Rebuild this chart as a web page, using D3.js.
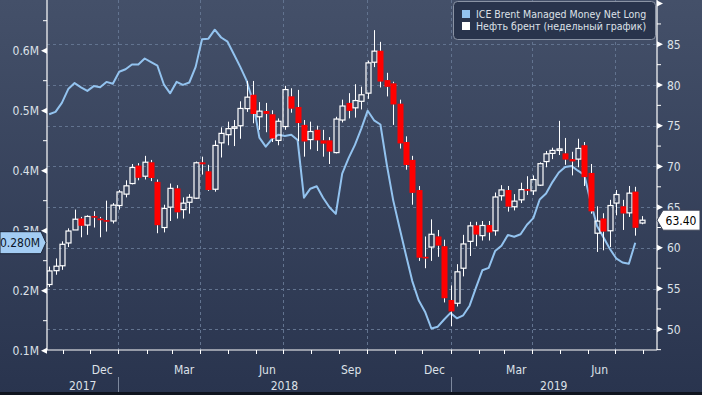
<!DOCTYPE html>
<html>
<head>
<meta charset="utf-8">
<script src="https://cdn.jsdelivr.net/npm/d3@7"></script>
<style>
  html, body { margin: 0; padding: 0; background: #2b3650; }
  svg { display: block; font-family: "DejaVu Sans Condensed", "DejaVu Sans", sans-serif; }
</style>
</head>
<body>
<div id="chart"></div>
<script>
// weekly Brent candles, weeks ending on Friday
const weeks = d3.timeFriday.range(new Date(2017, 9, 13), new Date(2019, 6, 27));

const open = [55.5,57.2,57.8,60.6,62.2,63.6,62.8,63.9,63.6,63.4, 63.3,65.2,66.6,67.9,70.1,68.8,70.5,68.1,62.5,65.0,
  67.3,64.7,65.6,66.1,70.5,69.4,67.2,72.9,73.9,74.7, 75.0,77.1,78.8,76.1,76.8,76.4,73.2,74.9,78.6,77.3,
  75.1,73.3,74.5,73.2,73.2,71.7,75.7,77.8,77.2,78.0, 79.0,82.8,84.2,80.6,80.2,77.7,73.0,70.8,67.1,58.9,
  60.1,61.4,60.2,53.6,53.2,57.5,60.8,62.75,61.5,62.8, 62.1,66.4,67.1,65.05,65.9,67.2,67.0,67.7,70.6,71.6,
  72.0,71.6,70.9,70.9,72.6,69.2,61.8,63.6,62.1,65.5, 65.1,64.3,66.9,63.05];
const high = [57.7,58.7,60.8,62.4,64.7,63.8,64.0,64.5,63.8,65.8, 65.5,67.1,68.3,70.3,70.4,71.3,70.8,68.4,65.3,67.9,
  67.7,66.2,66.6,70.6,71.2,70.2,73.2,74.8,75.5,75.7, 78.0,80.5,80.5,77.9,77.8,76.9,75.9,79.9,79.6,79.4,
  75.7,75.5,75.0,74.5,73.6,76.1,78.2,79.0,80.1,79.8, 83.0,86.74,85.3,81.5,80.4,78.2,73.7,71.3,67.6,61.4,
  63.5,62.2,61.0,55.4,58.0,61.6,63.2,63.2,63.3,63.3, 66.8,67.7,67.6,66.6,68.0,68.8,68.9,70.5,71.9,72.3,
  75.6,73.5,71.8,73.4,73.0,70.3,65.1,64.25,65.9,67.1, 65.9,67.6,67.5,63.9];
const low = [55.2,56.7,57.3,60.1,62.2,61.3,61.6,62.5,61.3,62.0, 63.0,64.7,66.2,67.8,68.3,68.4,68.2,61.8,61.9,63.3,
  63.6,63.6,64.2,66.0,69.0,67.0,66.9,71.1,72.6,72.5, 73.4,76.7,75.3,74.5,74.2,73.0,72.6,74.5,76.6,73.1,
  71.2,72.1,71.9,71.2,70.3,71.6,75.4,75.9,76.0,77.0, 78.3,82.2,79.7,78.6,75.1,72.2,69.6,65.3,58.4,57.5,
  58.4,58.9,53.3,50.4,52.8,56.5,59.0,60.2,60.9,60.9, 61.5,65.8,64.45,64.6,65.5,66.5,66.5,67.6,69.9,70.9,
  71.4,70.2,68.9,69.9,67.6,64.2,59.5,59.7,60.1,64.0, 62.2,63.8,61.5,62.9];
const close = [57.17,57.75,60.44,62.07,63.52,62.72,63.86,63.73,63.40,63.23, 65.25,66.87,67.62,69.87,68.61,70.52,68.58,62.79,64.84,67.31,
  64.37,65.49,66.21,70.45,70.27,67.11,72.58,74.06,74.64,74.87, 77.12,78.51,76.44,76.79,76.46,73.44,75.55,79.44,77.11,75.33,
  73.07,74.29,73.21,72.81,71.83,75.82,77.42,76.83,78.09,78.80, 82.72,84.16,80.43,79.78,77.62,72.83,70.18,66.76,58.80,58.71,
  61.67,60.28,53.82,52.20,57.06,60.48,62.70,61.64,62.75,61.90, 66.25,67.12,65.07,65.74,67.16,67.03,68.39,70.34,71.55,71.97,
  72.15,70.85,70.62,72.21,68.69,64.49,63.29,62.01,65.20,66.55, 64.23,66.72,62.47,63.40];

// ICE Brent managed money net long, millions of contracts
const mmNetLong = [0.494,0.498,0.513,0.536,0.546,0.539,0.533,0.541,0.539,0.548,
  0.545,0.565,0.569,0.577,0.577,0.587,0.581,0.575,0.544,0.529,
  0.548,0.543,0.547,0.573,0.619,0.620,0.635,0.622,0.615,0.594,
  0.573,0.550,0.515,0.455,0.440,0.453,0.460,0.458,0.460,0.451,
  0.355,0.370,0.374,0.355,0.339,0.328,0.395,0.421,0.443,0.470,
  0.500,0.484,0.477,0.410,0.351,0.305,0.260,0.216,0.184,0.165,
  0.137,0.140,0.152,0.163,0.154,0.159,0.175,0.205,0.234,0.238,
  0.266,0.275,0.293,0.290,0.294,0.310,0.321,0.352,0.362,0.381,
  0.397,0.406,0.408,0.400,0.393,0.348,0.308,0.289,0.270,0.254,
  0.247,0.245,0.280];

const leftTicks = [0.1, 0.2, 0.3, 0.4, 0.5, 0.6];
const leftMinor = [0.15, 0.25, 0.35, 0.45, 0.55, 0.65];
const rightTicks = [50, 55, 60, 65, 70, 75, 80, 85, 90];
const rightMinor = [47.5, 52.5, 57.5, 62.5, 67.5, 72.5, 77.5, 82.5, 87.5];
const monthLabels = ["Dec", "Mar", "Jun", "Sep", "Dec", "Mar", "Jun"];
const yearLabels = ["2017", "2018", "2019"];
const legendLabels = ["ICE Brent Managed Money Net Long", "Нефть брент (недельный график)"];

const W = 702, H = 395;
const plot = { left: 47, right: 657, top: 0, bottom: 350 };
const blue = "#93c3ef", red = "#ff0000", txt = "#dde1e8", grid = "#62738f";

const svg = d3.select("#chart").append("svg").attr("width", W).attr("height", H);
const defs = svg.append("defs");
const grad = defs.append("linearGradient").attr("id", "bg")
  .attr("x1", 0).attr("y1", 0).attr("x2", 0).attr("y2", 1);
grad.append("stop").attr("offset", "0%").attr("stop-color", "#445069");
grad.append("stop").attr("offset", "100%").attr("stop-color", "#29344e");
defs.append("clipPath").attr("id", "clip").append("rect")
  .attr("x", plot.left).attr("y", plot.top)
  .attr("width", plot.right - plot.left).attr("height", plot.bottom - plot.top);

svg.append("rect").attr("width", W).attr("height", H).attr("fill", "url(#bg)");
svg.append("rect").attr("x", 0).attr("y", 392).attr("width", W).attr("height", 3).attr("fill", "#10151f");

// scales
const x = d3.scaleTime()
  .domain([new Date(2018, 0, 1), new Date(2019, 0, 1)])
  .range([118.3, 450.5]);
const pos = d => x(d3.timeDay.offset(d, 4));
const yL = d3.scaleLinear().domain([0.1, 0.6]).range([350.7, 50.7]);
const yR = d3.scaleLinear().domain([50, 85]).range([329.3, 44.3]);

// grid
const gridG = svg.append("g").attr("clip-path", "url(#clip)");
gridG.selectAll("line.h").data(rightTicks.slice(0, 8)).enter().append("line")
  .attr("x1", plot.left).attr("x2", plot.right)
  .attr("y1", d => Math.round(yR(d)) + 0.5).attr("y2", d => Math.round(yR(d)) + 0.5)
  .attr("stroke", grid).attr("stroke-dasharray", "3,3");
const quarters = d3.timeMonth.every(3).range(new Date(2017, 9, 1), new Date(2019, 7, 1))
  .filter(d => x(d) > plot.left && x(d) < plot.right);
gridG.selectAll("line.v").data(quarters).enter().append("line")
  .attr("y1", plot.top).attr("y2", plot.bottom)
  .attr("x1", d => Math.round(x(d)) + 0.5).attr("x2", d => Math.round(x(d)) + 0.5)
  .attr("stroke", grid).attr("stroke-dasharray", "3,3");

// managed money line
const dataG = svg.append("g").attr("clip-path", "url(#clip)");
dataG.append("path")
  .datum(mmNetLong)
  .attr("fill", "none").attr("stroke", blue).attr("stroke-width", 2)
  .attr("stroke-linejoin", "round")
  .attr("d", d3.line().x((d, i) => pos(weeks[i])).y(d => yL(d)));

// candles
const candles = weeks.map((d, i) => ({ d, o: open[i], h: high[i], l: low[i], c: close[i] }));
const cg = dataG.selectAll("g.candle").data(candles).enter().append("g");
cg.each(function (k) {
  const g = d3.select(this);
  const cx = Math.round(pos(k.d)) + 0.5;
  const top = yR(Math.max(k.o, k.c)), bot = yR(Math.min(k.o, k.c));
  const up = k.c >= k.o;
  g.append("line").attr("x1", cx).attr("x2", cx)
    .attr("y1", yR(k.h)).attr("y2", top).attr("stroke", "#fff").attr("stroke-width", 1);
  g.append("line").attr("x1", cx).attr("x2", cx)
    .attr("y1", bot).attr("y2", yR(k.l)).attr("stroke", "#fff").attr("stroke-width", 1);
  if (up) {
    g.append("rect").attr("x", cx - 2.5).attr("width", 5)
      .attr("y", top).attr("height", Math.max(bot - top, 1.5))
      .attr("fill", "none").attr("stroke", "#fff").attr("stroke-width", 1.2);
  } else {
    g.append("rect").attr("x", cx - 3).attr("width", 6)
      .attr("y", top).attr("height", Math.max(bot - top, 1.5))
      .attr("fill", red);
  }
});

// axes lines
const axG = svg.append("g").attr("stroke", "#fff").attr("stroke-width", 1.2);
axG.append("line").attr("x1", plot.left).attr("x2", plot.left).attr("y1", 0).attr("y2", plot.bottom);
axG.append("line").attr("x1", plot.right).attr("x2", plot.right).attr("y1", 0).attr("y2", plot.bottom);
axG.append("line").attr("x1", plot.left).attr("x2", plot.right).attr("y1", plot.bottom).attr("y2", plot.bottom);

// left axis
svg.selectAll("path.lt").data(leftTicks).enter().append("path")
  .attr("d", d => `M${plot.left},${yL(d) - 3}L${plot.left - 6},${yL(d)}L${plot.left},${yL(d) + 3}Z`)
  .attr("fill", "#fff");
svg.selectAll("line.lm").data(leftMinor).enter().append("line")
  .attr("x1", plot.left - 4).attr("x2", plot.left)
  .attr("y1", d => yL(d)).attr("y2", d => yL(d)).attr("stroke", "#fff");
svg.selectAll("text.lt").data(leftTicks).enter().append("text")
  .attr("x", plot.left - 8).attr("y", d => yL(d) + 4.5)
  .attr("text-anchor", "end").attr("fill", txt).attr("font-size", 12)
  .text(d => d3.format(".1f")(d) + "M");

// right axis
svg.selectAll("path.rt").data(rightTicks).enter().append("path")
  .attr("d", d => `M${plot.right},${yR(d) - 3}L${plot.right + 6},${yR(d)}L${plot.right},${yR(d) + 3}Z`)
  .attr("fill", "#fff");
svg.selectAll("line.rm").data(rightMinor).enter().append("line")
  .attr("x1", plot.right).attr("x2", plot.right + 4)
  .attr("y1", d => yR(d)).attr("y2", d => yR(d)).attr("stroke", "#fff");
svg.selectAll("text.rt").data(rightTicks.slice(0, 8)).enter().append("text")
  .attr("x", plot.right + 10).attr("y", d => yR(d) + 4.5)
  .attr("fill", txt).attr("font-size", 12)
  .text(d => d);

// bottom axis
const months = d3.timeMonth.range(new Date(2017, 10, 1), new Date(2019, 7, 15));
svg.selectAll("line.mt").data(months).enter().append("line")
  .attr("x1", d => Math.round(x(d)) + 0.5).attr("x2", d => Math.round(x(d)) + 0.5)
  .attr("y1", plot.bottom).attr("y2", plot.bottom + 4).attr("stroke", "#fff");
// quarter labels: Dec, Mar, Jun, Sep ...
const labelMonths = months.filter(d => d.getMonth() % 3 === 2).slice(0, monthLabels.length);
svg.selectAll("text.mo").data(labelMonths).enter().append("text")
  .attr("x", d => (x(d) + x(d3.timeMonth.offset(d, 1))) / 2 - 2)
  .attr("y", 374).attr("text-anchor", "middle")
  .attr("fill", txt).attr("font-size", 12)
  .text((d, i) => monthLabels[i]);
const yearBounds = [new Date(2018, 0, 1), new Date(2019, 0, 1)];
svg.selectAll("line.ys").data(yearBounds).enter().append("line")
  .attr("x1", d => Math.round(x(d)) + 0.5).attr("x2", d => Math.round(x(d)) + 0.5)
  .attr("y1", 377).attr("y2", 392).attr("stroke", "#7d889d");
const edges = [plot.left, x(yearBounds[0]), x(yearBounds[1]), plot.right];
svg.selectAll("text.yr").data(yearLabels).enter().append("text")
  .attr("x", (d, i) => (edges[i] + edges[i + 1]) / 2).attr("y", 390)
  .attr("text-anchor", "middle").attr("fill", txt).attr("font-size", 12)
  .text(d => d);

// last value tags
const lastMM = mmNetLong[mmNetLong.length - 1];
const ly = yL(lastMM);
svg.append("path")
  .attr("d", `M0,${ly - 11}L41,${ly - 11}L46,${ly}L41,${ly + 11}L0,${ly + 11}Z`)
  .attr("fill", "#a3ccf3").attr("stroke", "#1b2438").attr("stroke-width", 1);
svg.append("text").attr("x", 20).attr("y", ly + 4.5).attr("text-anchor", "middle")
  .attr("fill", "#0c1627").attr("font-size", 12)
  .text(d3.format(".3f")(lastMM) + "M");

const lastPx = close[close.length - 1];
const ry = yR(lastPx);
svg.append("path")
  .attr("d", `M${plot.right},${ry}L${plot.right + 6},${ry - 10}L700,${ry - 10}L700,${ry + 10}L${plot.right + 6},${ry + 10}Z`)
  .attr("fill", "#fff").attr("stroke", "#3a4256").attr("stroke-width", 1);
svg.append("text").attr("x", 681).attr("y", ry + 4.5).attr("text-anchor", "middle")
  .attr("fill", "#000").attr("font-size", 12)
  .text(d3.format(".2f")(lastPx));

// legend
const lg = svg.append("g");
lg.append("rect").attr("x", 453.5).attr("y", 1.5).attr("width", 202).attr("height", 38).attr("rx", 4)
  .attr("fill", "#29344c").attr("stroke", "#8a93a4");
const legendColors = [blue, "#ffffff"];
legendLabels.forEach((t, i) => {
  lg.append("rect").attr("x", 462).attr("y", 10 + i * 12).attr("width", 8).attr("height", 8)
    .attr("fill", legendColors[i]);
  lg.append("text").attr("x", 476).attr("y", 18 + i * 12)
    .attr("fill", txt).attr("font-size", 10.5).text(t);
});
</script>
</body>
</html>
